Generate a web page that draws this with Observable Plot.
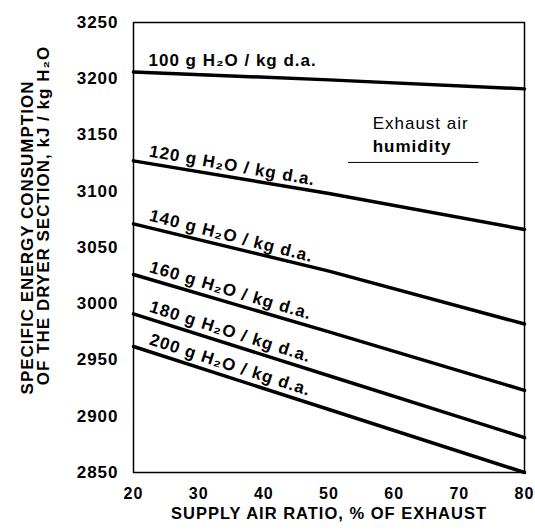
<!DOCTYPE html>
<html><head><meta charset="utf-8">
<script src="https://cdn.jsdelivr.net/npm/d3@7"></script>
<script src="https://cdn.jsdelivr.net/npm/@observablehq/plot@0.6"></script>
<style>body{margin:0;background:#fff}</style>
</head><body><div id="chart"></div>
<script>
// Data
const supplyRatio = [20, 50, 80];
const humidityLevels = [100, 120, 140, 160, 180, 200];
const energy100 = [3206, 3199, 3191];
const energy120 = [3127, 3098, 3066];
const energy140 = [3071, 3029, 2982];
const energy160 = [3026, 2975, 2923];
const energy180 = [2991, 2936, 2881];
const energy200 = [2962, 2906, 2850];
const seriesValues = [energy100, energy120, energy140, energy160, energy180, energy200];
const curveLabels = humidityLevels.map(h => `${h} g H₂O / kg d.a.`);
const xTicks = [20, 30, 40, 50, 60, 70, 80];
const yTicks = [2850, 2900, 2950, 3000, 3050, 3100, 3150, 3200, 3250];
const xTitle = "SUPPLY AIR RATIO, % OF EXHAUST";
const yTitle1 = "SPECIFIC ENERGY CONSUMPTION";
const yTitle2 = "OF THE DRYER SECTION, kJ / kg H₂O";
const noteText = ["Exhaust air", "humidity"];
const noteX = 56.7;
const noteY = [3160, 3140];
const noteRuleY = 3125.6;
const noteRuleX = [53, 73];

const W = 535, H = 532, mL = 133, mR = 11, mT = 22, mB = 60;
const xs = d3.scaleLinear([20, 80], [mL, W - mR]);
const ys = d3.scaleLinear([2850, 3250], [H - mB, mT]);

const rows = humidityLevels.flatMap((h, i) => supplyRatio.map((s, j) => ({h, s, e: seriesValues[i][j]})));

const labelX = 22.3;
const labelRows = humidityLevels.map((h, i) => {
  const v = seriesValues[i];
  const e = v[0] + (v[1] - v[0]) * (labelX - 20) / 30;
  const angle = i === 0 ? 0 : Math.atan2(ys(v[2]) - ys(v[0]), xs(80) - xs(20)) * 180 / Math.PI;
  return {text: curveLabels[i], s: labelX, e, angle};
});

const chart = Plot.plot({
  width: W, height: H,
  marginLeft: mL, marginRight: mR, marginTop: mT, marginBottom: mB,
  style: {fontFamily: "'Liberation Sans', Arial, sans-serif", fontWeight: "bold", fontSize: "17px", letterSpacing: "1px", background: "#fff", color: "#000"},
  x: {domain: [20, 80], label: null},
  y: {domain: [2850, 3250], label: null},
  marks: [
    Plot.line(rows, {x: "s", y: "e", z: "h", stroke: "black", strokeWidth: 3.5}),
    Plot.text(labelRows, {x: "s", y: "e", text: "text", rotate: "angle", textAnchor: "start", lineAnchor: "bottom", dy: -7, fontSize: 17}),
    Plot.frame({stroke: "black", strokeWidth: 1.5}),
    Plot.text([noteText[0]], {x: noteX, y: noteY[0], text: d => d, textAnchor: "start", fontWeight: "normal", fontSize: 17}),
    Plot.text([noteText[1]], {x: noteX, y: noteY[1], text: d => d, textAnchor: "start", fontWeight: "bold", fontSize: 17}),
    Plot.ruleY([noteRuleY], {x1: noteRuleX[0], x2: noteRuleX[1], stroke: "black", strokeWidth: 1}),
    Plot.axisX(xTicks, {tickSize: 0, tickPadding: 15, fontSize: 16, tickFormat: d => String(d)}),
    Plot.axisY(yTicks, {tickSize: 0, tickPadding: 15, fontSize: 17, tickFormat: d => String(d)}),
    Plot.text([xTitle], {frameAnchor: "bottom", text: d => d, lineAnchor: "middle", dy: 41, fontSize: 16.5}),
    Plot.text([yTitle1], {frameAnchor: "left", text: d => d, rotate: -90, textAnchor: "middle", lineAnchor: "middle", dx: -106, dy: -10, fontSize: 17}),
    Plot.text([yTitle2], {frameAnchor: "left", text: d => d, rotate: -90, textAnchor: "middle", lineAnchor: "middle", dx: -90, dy: -32, fontSize: 17})
  ]
});
document.getElementById("chart").appendChild(chart);
</script>
</body></html>
